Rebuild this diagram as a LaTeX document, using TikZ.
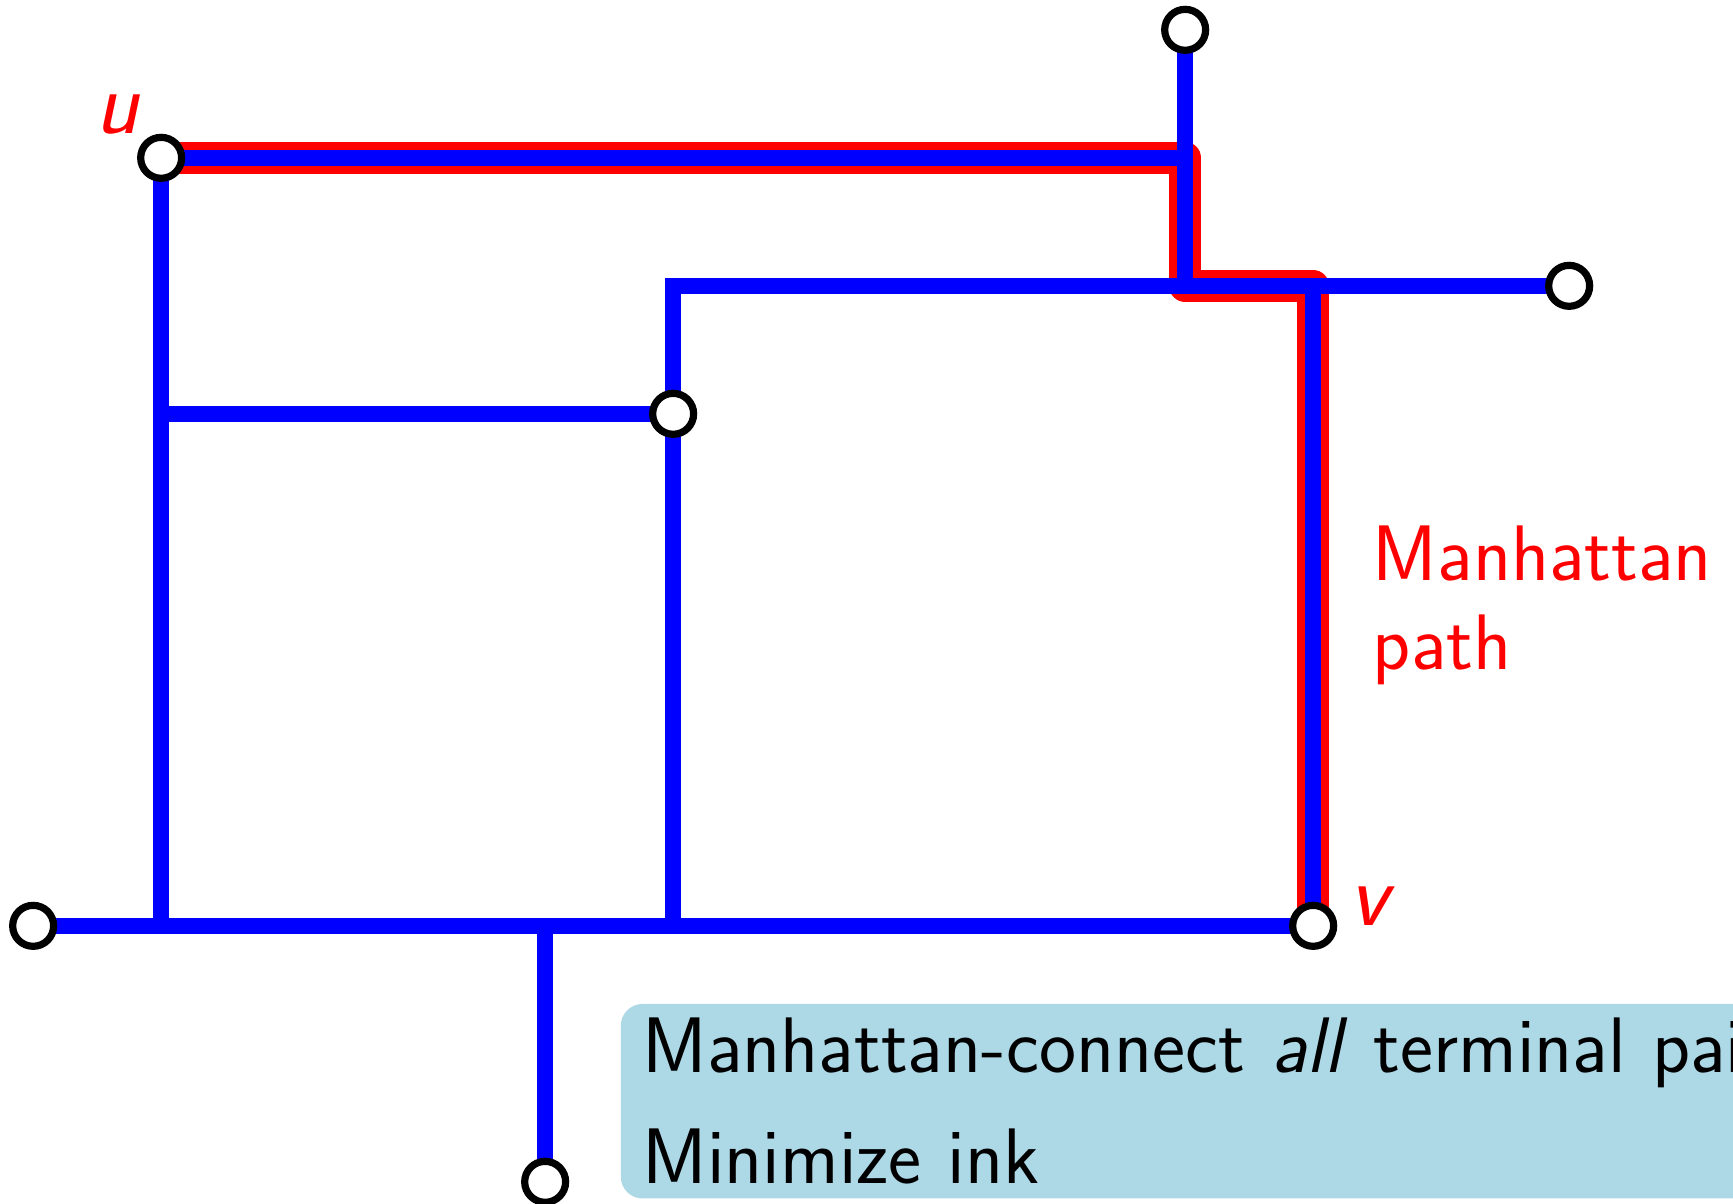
\documentclass[tikz,border=0pt]{standalone}
\usepackage{fontspec}
\renewcommand{\familydefault}{\sfdefault}
\usetikzlibrary{backgrounds}
\definecolor{cajaazul}{RGB}{173,216,230}

\begin{document}
\begin{tikzpicture}[
  terminal/.style={circle, draw=black, fill=white, line width=1.6pt,
    minimum size=0.32cm, inner sep=0pt},
  cable/.style={draw=blue, line width=0.125cm},
  ruta/.style={draw=red, line width=0.25cm, line join=round},
  etiqueta/.style={text=red, font=\fontsize{20}{24}\selectfont\itshape, inner sep=0pt},
  meta/.style={fill=cajaazul, rounded corners=0.17cm, inner xsep=0.17cm,
    inner ysep=0.11cm, align=left, text width=11cm,
    font=\fontsize{17.5}{20}\selectfont}]
  \useasboundingbox (-0.259,-0.166) rectangle (13.28,9.233);
  \clip (-0.259,-0.166) rectangle (13.28,9.233);
  % terminales
  \node[terminal] (t1) at (9,9) {};
  \node[terminal] (u)  at (1,8) {};
  \node[terminal] (t2) at (12,7) {};
  \node[terminal] (t3) at (5,6) {};
  \node[terminal] (t4) at (0,2) {};
  \node[terminal] (v)  at (10,2) {};
  \node[terminal] (t5) at (4,0) {};
  % puntos de Steiner
  \coordinate (a) at (9,8);
  \coordinate (b) at (9,7);
  \coordinate (c) at (5,7);
  \coordinate (d) at (5,2);
  \coordinate (e) at (1,6);
  \coordinate (f) at (1,2);
  \coordinate (g) at (4,2);
  \coordinate (h) at (10,7);
  \begin{scope}[on background layer]
    % camino de u a v
    \draw[ruta] (u.center) -- (a) -- (b) -- (h) -- (v.center);
    % arbol
    \draw[cable] (f) -- (u.center) -- (a);
    \draw[cable] (t1.center) -- (b);
    \draw[cable] (d) -- (c) -- (t2.center);
    \draw[cable] (e) -- (t3.center);
    \draw[cable] (t4.center) -- (v.center);
    \draw[cable] (g) -- (t5.center);
    \draw[cable] (h) -- (v.center);
  \end{scope}
  % etiquetas
  \node[etiqueta, anchor=base west] at ([xshift=-0.52cm, yshift=0.19cm]u.center) {u};
  \node[etiqueta, anchor=base west] at ([xshift=0.28cm]v.center) {v};
  \node[text=red, inner sep=0pt, align=left, anchor=north west,
    font=\fontsize{17.5}{19.7}\selectfont] (nota) at (10.46,5.13) {Manhattan\\path};
  % objetivo
  \node[meta, anchor=north west] (objetivo) at (4.584,1.397)
    {Manhattan-connect \textit{all} terminal pairs\\[4.7pt]Minimize ink};
\end{tikzpicture}
\end{document}
